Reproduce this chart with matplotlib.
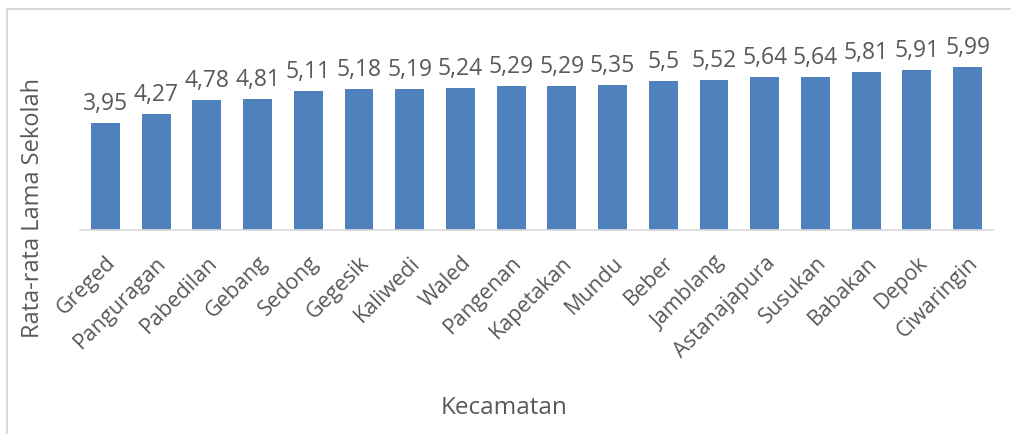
import matplotlib.pyplot as plt
from matplotlib.patches import Rectangle

plt.rcParams['font.family'] = ['Open Sans', 'DejaVu Sans']

kecamatan = ['Greged', 'Panguragan', 'Pabedilan', 'Gebang', 'Sedong', 'Gegesik',
             'Kaliwedi', 'Waled', 'Pangenan', 'Kapetakan', 'Mundu', 'Beber',
             'Jamblang', 'Astanajapura', 'Susukan', 'Babakan', 'Depok', 'Ciwaringin']
rata_rata = [3.95, 4.27, 4.78, 4.81, 5.11, 5.18, 5.19, 5.24, 5.29, 5.29, 5.35, 5.5,
             5.52, 5.64, 5.64, 5.81, 5.91, 5.99]

text_color = '#595959'
bar_color = '#4f81bd'

fig = plt.figure(figsize=(10.11, 4.34), dpi=100)
ax = fig.add_axes([80 / 1011, 1 - 230 / 434, 913 / 1011, 190 / 434])

x = range(len(kecamatan))
bars = ax.bar(x, rata_rata, width=0.57, color=bar_color)
for b, v in zip(bars, rata_rata):
    ax.annotate(f"{v:g}".replace('.', ','), (b.get_x() + b.get_width() / 2, v),
                xytext=(0, 5), textcoords='offset points', ha='center', va='bottom',
                fontsize=16.5, color=text_color)

ax.set_xlim(-0.5, len(kecamatan) - 0.5)
ax.set_ylim(0, 7)
ax.set_xticks(list(x))
ax.set_xticklabels(kecamatan, rotation=45, ha='right', rotation_mode='anchor',
                   fontsize=15.5, color=text_color)
ax.tick_params(axis='x', length=0, pad=16)
ax.set_yticks([])
for s in ['top', 'right', 'left']:
    ax.spines[s].set_visible(False)
ax.spines['bottom'].set_color('#d9d9d9')
ax.spines['bottom'].set_linewidth(1.2)

fig.text(33 / 1011, 1 - 208 / 434, 'Rata-rata Lama Sekolah', rotation=90,
         ha='center', va='center', fontsize=17, color=text_color)
fig.text(504 / 1011, 1 - 408 / 434, 'Kecamatan', ha='center', va='center',
         fontsize=17.5, color=text_color)

fig.patches.append(Rectangle((7 / 1011, -0.1), 1.2, 1.1 - 9 / 434, transform=fig.transFigure,
                             fill=False, edgecolor='#d9d9d9', linewidth=1.5))

fig.savefig('out.png')
